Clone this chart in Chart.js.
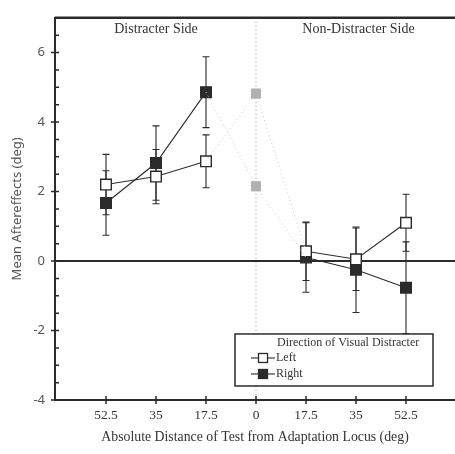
<!DOCTYPE html>
<html>
<head>
<meta charset="utf-8">
<script src="https://cdn.jsdelivr.net/npm/chart.js@4.4.0/dist/chart.umd.min.js"></script>
<style>
  html, body { margin: 0; padding: 0; background: #fff; overflow: hidden; }
  #wrap { width: 455px; height: 454px; position: relative; }
</style>
</head>
<body>
<div id="wrap"><canvas id="myChart" width="455" height="454"></canvas></div>
<script>
// x positions: distracter side on the left, non-distracter side on the right
const positions = [-3, -2, -1, 0, 1, 2, 3];
const tickLabels = ['52.5', '35', '17.5', '0', '17.5', '35', '52.5'];

const leftMeans = [2.2, 2.43, 2.87, null, 0.28, 0.05, 1.1];
const leftErrors = [0.87, 0.78, 0.76, null, 0.84, 0.9, 0.82];
const rightMeans = [1.67, 2.82, 4.86, null, 0.1, -0.25, -0.77];
const rightErrors = [0.93, 1.07, 1.02, null, 1.0, 1.23, 1.32];

// faint links through the adaptation locus
const leftBridge = [2.87, 4.82, 0.28];
const rightBridge = [4.86, 2.15, 0.1];
const bridgePos = [-1, 0, 1];

const sideTitles = ['Distracter Side', 'Non-Distracter Side'];
const legendTitle = 'Direction of Visual Distracter';
const seriesNames = ['Left', 'Right'];

const ink = '#2b2b2b';
const serif = '"Liberation Serif", "Times New Roman", serif';
const sans = '"Noto Sans", "Open Sans", sans-serif';

function pts(xs, ys) {
  return xs.map((x, i) => ({ x: x, y: ys[i] }));
}

const errorBars = {
  id: 'errorBars',
  beforeDatasetsDraw(chart) {
    const { ctx, scales: { x, y } } = chart;
    ctx.save();
    ctx.strokeStyle = ink;
    ctx.lineWidth = 1.1;
    [[leftMeans, leftErrors], [rightMeans, rightErrors]].forEach(([m, e]) => {
      positions.forEach((p, i) => {
        if (m[i] == null) return;
        const px = x.getPixelForValue(p);
        const top = y.getPixelForValue(m[i] + e[i]);
        const bot = y.getPixelForValue(m[i] - e[i]);
        ctx.beginPath();
        ctx.moveTo(px, top); ctx.lineTo(px, bot);
        ctx.moveTo(px - 3.5, top); ctx.lineTo(px + 3.5, top);
        ctx.moveTo(px - 3.5, bot); ctx.lineTo(px + 3.5, bot);
        ctx.stroke();
      });
    });
    ctx.restore();
  }
};

const frame = {
  id: 'frame',
  beforeDatasetsDraw(chart) {
    const { ctx, chartArea: a, scales: { x, y } } = chart;
    ctx.save();
    // dotted divider at 0
    const x0 = x.getPixelForValue(0);
    ctx.strokeStyle = '#8a8a8a';
    ctx.lineWidth = 1;
    ctx.setLineDash([1, 3]);
    ctx.beginPath();
    ctx.moveTo(x0, a.top); ctx.lineTo(x0, a.bottom);
    ctx.stroke();
    ctx.setLineDash([]);
    // zero line
    const y0 = y.getPixelForValue(0);
    ctx.strokeStyle = ink;
    ctx.lineWidth = 2;
    ctx.beginPath();
    ctx.moveTo(a.left, y0); ctx.lineTo(a.right, y0);
    ctx.stroke();
    // top border
    ctx.lineWidth = 2.5;
    ctx.beginPath();
    ctx.moveTo(a.left, a.top); ctx.lineTo(a.right, a.top);
    ctx.stroke();
    // tick marks
    ctx.lineWidth = 1.5;
    ctx.beginPath();
    for (let v = -4; v <= 7; v += 0.5) {
      const py = y.getPixelForValue(v);
      const major = v % 2 === 0;
      ctx.moveTo(a.left - (major ? 4 : 0), py);
      ctx.lineTo(a.left + 4, py);
    }
    positions.forEach(p => {
      const px = x.getPixelForValue(p);
      ctx.moveTo(px, a.bottom - 4); ctx.lineTo(px, a.bottom + 4);
    });
    ctx.stroke();
    // side titles
    ctx.fillStyle = '#333';
    ctx.font = '14px ' + serif;
    ctx.textAlign = 'center';
    ctx.textBaseline = 'middle';
    ctx.fillText(sideTitles[0], x.getPixelForValue(-2), a.top + 12);
    ctx.fillText(sideTitles[1], x.getPixelForValue(2.05), a.top + 12);
    ctx.restore();
  }
};

const boxLegend = {
  id: 'boxLegend',
  afterDatasetsDraw(chart) {
    const { ctx, scales: { x, y } } = chart;
    const bx = x.getPixelForValue(-0.42), by = y.getPixelForValue(-2.1);
    const bw = 198, bh = 52;
    ctx.save();
    ctx.fillStyle = '#fff';
    ctx.fillRect(bx, by, bw, bh);
    ctx.strokeStyle = ink;
    ctx.lineWidth = 1.5;
    ctx.strokeRect(bx, by, bw, bh);
    ctx.fillStyle = '#333';
    ctx.font = '12px ' + serif;
    ctx.textBaseline = 'middle';
    ctx.fillText(legendTitle, bx + 42, by + 9);
    seriesNames.forEach((name, i) => {
      const ly = by + 24 + i * 16;
      ctx.strokeStyle = ink;
      ctx.lineWidth = 1.1;
      ctx.beginPath();
      ctx.moveTo(bx + 16, ly); ctx.lineTo(bx + 40, ly);
      ctx.stroke();
      ctx.fillStyle = i === 0 ? '#fff' : ink;
      ctx.fillRect(bx + 23.5, ly - 4.5, 9, 9);
      ctx.lineWidth = 1.3;
      ctx.strokeRect(bx + 23.5, ly - 4.5, 9, 9);
      ctx.fillStyle = '#333';
      ctx.fillText(name, bx + 41, ly);
    });
    ctx.restore();
  }
};

new Chart(document.getElementById('myChart'), {
  type: 'line',
  data: {
    datasets: [{
      label: 'Left link',
      data: pts(bridgePos, leftBridge),
      borderColor: '#c8c8c8',
      borderWidth: 1,
      borderDash: [1, 3],
      pointRadius: [0, 6.5, 0],
      pointStyle: 'rect',
      pointBackgroundColor: '#b0b0b0',
      pointBorderColor: '#b0b0b0'
    }, {
      label: 'Right link',
      data: pts(bridgePos, rightBridge),
      borderColor: '#c8c8c8',
      borderWidth: 1,
      borderDash: [1, 3],
      pointRadius: [0, 6.5, 0],
      pointStyle: 'rect',
      pointBackgroundColor: '#b0b0b0',
      pointBorderColor: '#b0b0b0'
    }, {
      label: seriesNames[0],
      data: pts(positions, leftMeans),
      borderColor: ink,
      borderWidth: 1.1,
      spanGaps: false,
      pointStyle: 'rect',
      pointRadius: 7.5,
      pointBorderWidth: 1.4,
      pointBackgroundColor: '#fff',
      pointBorderColor: ink
    }, {
      label: seriesNames[1],
      data: pts(positions, rightMeans),
      borderColor: ink,
      borderWidth: 1.1,
      spanGaps: false,
      pointStyle: 'rect',
      pointRadius: 7.5,
      pointBorderWidth: 1.4,
      pointBackgroundColor: ink,
      pointBorderColor: ink
    }]
  },
  options: {
    responsive: false,
    animation: false,
    layout: { autoPadding: false, padding: { top: 5, right: 0, left: 0, bottom: 0 } },
    plugins: { legend: { display: false }, tooltip: { enabled: false } },
    scales: {
      x: {
        type: 'linear',
        min: -4.02,
        max: 3.98,
        afterBuildTicks: s => { s.ticks = positions.map(v => ({ value: v })); },
        afterFit: s => { s.height = 54; },
        grid: { display: false, drawTicks: false },
        border: { display: true, color: ink, width: 2 },
        ticks: {
          padding: 7,
          color: '#333',
          font: { family: serif, size: 13.5 },
          callback: v => tickLabels[positions.indexOf(v)]
        },
        title: {
          display: true,
          text: 'Absolute Distance of Test from Adaptation Locus (deg)',
          color: '#333',
          font: { family: serif, size: 13.8 },
          padding: { top: 0, bottom: 8 }
        }
      },
      y: {
        min: -4,
        max: 7,
        afterBuildTicks: s => { s.ticks = [-4, -2, 0, 2, 4, 6].map(v => ({ value: v })); },
        afterFit: s => { s.width = 55; },
        grid: { display: false, drawTicks: false },
        border: { display: true, color: ink, width: 2 },
        ticks: {
          padding: 10,
          color: '#555',
          font: { family: sans, size: 13 }
        },
        title: {
          display: true,
          text: 'Mean Aftereffects (deg)',
          color: '#555',
          font: { family: sans, size: 13 },
          padding: { top: 9, bottom: 0 }
        }
      }
    }
  },
  plugins: [frame, errorBars, boxLegend]
});
</script>
</body>
</html>
